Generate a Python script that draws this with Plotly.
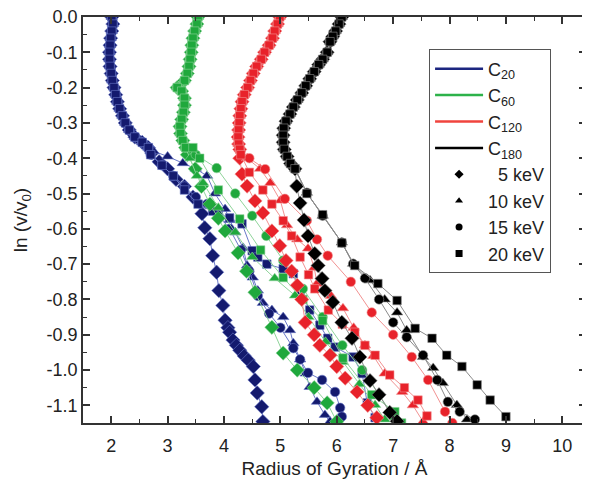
import plotly.graph_objects as go

# ---------------- data ----------------
# C20
C20_top_x = [2.01, 2.03, 2.01, 1.99, 1.98, 1.97, 1.97, 1.98, 2.00, 2.02, 2.05, 2.08, 2.11, 2.15, 2.20, 2.25, 2.32, 2.42, 2.55, 2.66]
C20_top_y = [0.0, -0.02, -0.04, -0.06, -0.08, -0.10, -0.12, -0.14, -0.16, -0.18, -0.20, -0.22, -0.24, -0.26, -0.28, -0.30, -0.32, -0.34, -0.355, -0.37]
C20_5_x = [2.72, 2.85, 3.0, 3.15, 3.3, 3.45, 3.61, 3.66, 3.75, 3.80, 3.87, 3.91, 3.98, 4.02, 4.07, 4.10, 4.16, 4.22, 4.28, 4.36, 4.43, 4.52, 4.55, 4.59, 4.67, 4.69]
C20_5_y = [-0.385, -0.41, -0.43, -0.46, -0.48, -0.51, -0.557, -0.597, -0.628, -0.676, -0.723, -0.775, -0.817, -0.859, -0.88, -0.893, -0.915, -0.93, -0.944, -0.96, -0.972, -0.99, -1.028, -1.065, -1.104, -1.146]
C20_10_x = [2.75, 3.0, 3.27, 3.5, 3.70, 3.84, 4.02, 4.10, 4.20, 4.34, 4.41, 4.51, 4.60, 4.69, 4.85, 5.05, 5.17, 5.23, 5.35, 5.45, 5.52, 5.65, 5.79, 5.88]
C20_10_y = [-0.38, -0.395, -0.414, -0.43, -0.45, -0.50, -0.544, -0.575, -0.61, -0.654, -0.704, -0.738, -0.775, -0.81, -0.83, -0.85, -0.887, -0.924, -0.97, -1.01, -1.048, -1.09, -1.127, -1.146]
C20_15_x = [2.70, 2.90, 3.10, 3.30, 3.50, 3.70, 3.90, 4.10, 4.30, 4.45, 4.60, 4.80, 5.00, 5.23, 5.35, 5.49, 5.74, 5.97, 6.06, 6.09]
C20_15_y = [-0.39, -0.42, -0.45, -0.48, -0.51, -0.53, -0.56, -0.60, -0.66, -0.72, -0.79, -0.84, -0.88, -0.938, -0.97, -1.008, -1.028, -1.062, -1.107, -1.132]
C20_20_x = [2.70, 2.90, 3.10, 3.30, 3.54, 3.80, 4.10, 4.32, 4.50, 4.60, 4.76, 5.05, 5.23, 5.35, 5.52, 5.70, 5.84, 5.97, 6.29, 6.45, 6.54, 6.68]
C20_20_y = [-0.39, -0.42, -0.45, -0.49, -0.53, -0.55, -0.569, -0.586, -0.662, -0.68, -0.70, -0.713, -0.727, -0.775, -0.83, -0.873, -0.91, -0.935, -0.963, -1.01, -1.093, -1.135]

# C60
C60_top_x = [3.54, 3.52, 3.48, 3.45, 3.43, 3.42, 3.40, 3.38, 3.35, 3.30, 3.17, 3.25, 3.30, 3.30, 3.28, 3.25, 3.22, 3.23, 3.27, 3.32]
C60_top_y = [0.0, -0.02, -0.04, -0.06, -0.08, -0.10, -0.12, -0.14, -0.16, -0.18, -0.20, -0.21, -0.23, -0.25, -0.27, -0.29, -0.31, -0.33, -0.35, -0.37]
C60_5_x = [3.35, 3.49, 3.60, 3.75, 3.90, 4.02, 4.25, 4.40, 4.55, 4.85, 5.05, 5.30, 5.60, 5.83, 6.00]
C60_5_y = [-0.39, -0.43, -0.48, -0.53, -0.57, -0.606, -0.668, -0.72, -0.78, -0.879, -0.952, -1.0, -1.05, -1.093, -1.146]
C60_10_x = [3.40, 3.52, 3.63, 3.90, 4.20, 4.50, 4.90, 5.26, 5.50, 5.80, 6.11, 6.40, 6.68, 6.85]
C60_10_y = [-0.40, -0.45, -0.47, -0.54, -0.61, -0.68, -0.74, -0.789, -0.85, -0.92, -0.977, -1.04, -1.099, -1.14]
C60_15_x = [3.50, 3.87, 4.20, 4.50, 4.75, 5.05, 5.40, 5.75, 6.10, 6.45, 6.75, 7.00]
C60_15_y = [-0.39, -0.428, -0.50, -0.563, -0.62, -0.69, -0.77, -0.85, -0.93, -1.0, -1.07, -1.13]
C60_20_x = [3.45, 3.57, 3.90, 4.28, 4.65, 5.05, 5.40, 5.75, 6.11, 6.62, 7.03, 7.15]
C60_20_y = [-0.37, -0.40, -0.49, -0.572, -0.66, -0.738, -0.80, -0.86, -0.966, -1.07, -1.118, -1.15]

# C120
C120_top_x = [4.99, 4.95, 4.90, 4.86, 4.80, 4.72, 4.66, 4.58, 4.52, 4.47, 4.42, 4.36, 4.32, 4.30, 4.28, 4.27, 4.26, 4.25, 4.26, 4.28]
C120_top_y = [0.0, -0.02, -0.04, -0.06, -0.08, -0.10, -0.12, -0.14, -0.16, -0.18, -0.20, -0.22, -0.24, -0.26, -0.28, -0.30, -0.32, -0.34, -0.36, -0.375]
C120_5_x = [4.28, 4.32, 4.41, 4.55, 4.69, 4.85, 4.99, 5.10, 5.20, 5.30, 5.38, 5.44, 5.60, 5.70, 5.88, 6.00, 6.15, 6.36, 6.55, 6.71]
C120_5_y = [-0.40, -0.445, -0.479, -0.521, -0.555, -0.606, -0.648, -0.69, -0.72, -0.76, -0.80, -0.865, -0.90, -0.93, -0.958, -0.99, -1.023, -1.062, -1.10, -1.135]
C120_10_x = [4.41, 4.64, 4.82, 5.00, 5.12, 5.30, 5.49, 5.60, 5.65, 5.90, 6.11, 6.30, 6.50, 6.65, 6.85, 7.16, 7.35, 7.53]
C120_10_y = [-0.40, -0.43, -0.47, -0.52, -0.59, -0.63, -0.656, -0.71, -0.755, -0.79, -0.825, -0.88, -0.93, -0.96, -1.01, -1.062, -1.10, -1.146]
C120_15_x = [4.45, 4.73, 5.08, 5.47, 5.65, 5.84, 6.25, 6.62, 7.00, 7.33, 7.62, 7.92, 8.05]
C120_15_y = [-0.40, -0.431, -0.515, -0.577, -0.63, -0.676, -0.75, -0.837, -0.90, -0.963, -1.028, -1.118, -1.15]
C120_20_x = [4.30, 4.45, 4.69, 4.85, 5.05, 5.20, 5.35, 5.50, 5.61, 5.85, 6.10, 6.32, 6.50, 6.68, 6.94, 7.20, 7.44, 7.60]
C120_20_y = [-0.39, -0.44, -0.49, -0.53, -0.577, -0.62, -0.68, -0.73, -0.77, -0.83, -0.87, -0.893, -0.93, -0.958, -1.014, -1.05, -1.085, -1.13]

# C180
C180_top_x = [6.09, 6.04, 5.98, 5.93, 5.88, 5.83, 5.75, 5.68, 5.60, 5.52, 5.45, 5.38, 5.30, 5.23, 5.17, 5.10, 5.06, 5.05, 5.05, 5.07, 5.12, 5.18, 5.26]
C180_top_y = [0.0, -0.02, -0.04, -0.055, -0.07, -0.10, -0.12, -0.135, -0.155, -0.175, -0.195, -0.215, -0.235, -0.255, -0.275, -0.295, -0.315, -0.335, -0.355, -0.375, -0.395, -0.415, -0.43]
C180_5_x = [5.29, 5.35, 5.42, 5.49, 5.61, 5.67, 5.74, 5.79, 5.93, 6.09, 6.27, 6.41, 6.59, 6.75, 6.94, 7.07]
C180_5_y = [-0.479, -0.527, -0.575, -0.62, -0.67, -0.704, -0.741, -0.775, -0.808, -0.865, -0.91, -0.963, -1.03, -1.07, -1.12, -1.145]
C180_10_x = [5.47, 5.75, 6.09, 6.29, 6.59, 6.85, 7.07, 7.24, 7.53, 7.71, 7.88, 8.13, 8.31]
C180_10_y = [-0.498, -0.563, -0.639, -0.699, -0.746, -0.80, -0.837, -0.887, -0.963, -0.994, -1.037, -1.099, -1.14]
C180_15_x = [5.47, 5.75, 6.09, 6.29, 6.50, 6.75, 7.00, 7.24, 7.53, 7.78, 7.97, 8.18, 8.45]
C180_15_y = [-0.498, -0.563, -0.639, -0.699, -0.74, -0.80, -0.865, -0.907, -0.958, -1.028, -1.09, -1.118, -1.14]
C180_20_x = [5.47, 5.75, 6.09, 6.32, 6.73, 7.07, 7.39, 7.69, 7.95, 8.22, 8.49, 8.72, 9.00]
C180_20_y = [-0.50, -0.56, -0.64, -0.704, -0.755, -0.803, -0.882, -0.91, -0.958, -0.99, -1.042, -1.085, -1.132]

cluster_names = ["C<sub>20</sub>", "C<sub>60</sub>", "C<sub>120</sub>", "C<sub>180</sub>"]
energy_labels = ["&nbsp;&nbsp;5 keV", "10 keV", "15 keV", "20 keV"]
x_ticks = [2, 3, 4, 5, 6, 7, 8, 9, 10]
y_ticks = [0.0, -0.1, -0.2, -0.3, -0.4, -0.5, -0.6, -0.7, -0.8, -0.9, -1.0, -1.1]

# ---------------- styling ----------------
marker_colors = ["#141a6e", "#1fa83c", "#e8222a", "#000000"]
line_colors = ["#6a78c8", "#8fd49a", "#f29292", "#8a8a8a"]
legend_line_colors = ["#1c2680", "#2db24a", "#f0443e", "#000000"]
symbols = ["diamond", "triangle-up", "circle", "square"]
sizes = [11, 10, 9.5, 8.5]

clusters = [
    (C20_top_x, C20_top_y, [(C20_5_x, C20_5_y), (C20_10_x, C20_10_y), (C20_15_x, C20_15_y), (C20_20_x, C20_20_y)]),
    (C60_top_x, C60_top_y, [(C60_5_x, C60_5_y), (C60_10_x, C60_10_y), (C60_15_x, C60_15_y), (C60_20_x, C60_20_y)]),
    (C120_top_x, C120_top_y, [(C120_5_x, C120_5_y), (C120_10_x, C120_10_y), (C120_15_x, C120_15_y), (C120_20_x, C120_20_y)]),
    (C180_top_x, C180_top_y, [(C180_5_x, C180_5_y), (C180_10_x, C180_10_y), (C180_15_x, C180_15_y), (C180_20_x, C180_20_y)]),
]

fig = go.Figure()
for ci, (tx, ty, branches) in enumerate(clusters):
    for ei, (bx, by) in enumerate(branches):
        fig.add_trace(go.Scatter(
            x=tx + bx, y=ty + by, mode="lines+markers",
            line=dict(color=line_colors[ci], width=1),
            marker=dict(symbol=symbols[ei], size=sizes[ei], color=marker_colors[ci],
                        line=dict(width=0.6, color=line_colors[ci])),
            showlegend=False, hoverinfo="skip"))

for ci, name in enumerate(cluster_names):
    fig.add_trace(go.Scatter(x=[None], y=[None], mode="lines", name=name,
                             line=dict(color=legend_line_colors[ci], width=2.5)))
for ei, name in enumerate(energy_labels):
    fig.add_trace(go.Scatter(x=[None], y=[None], mode="markers", name=name,
                             marker=dict(symbol=symbols[ei], size=7, color="black")))

axis_common = dict(showline=True, linecolor="#333333", linewidth=1.5, mirror="ticks",
                   ticks="inside", ticklen=7, tickwidth=1.5, tickcolor="#333333",
                   showgrid=False, zeroline=False, automargin=False,
                   ticklabeloverflow="allow",
                   tickfont=dict(size=18, color="#222222"))

fig.update_xaxes(range=[1.5, 10.42], tickvals=x_ticks, ticktext=[str(v) for v in x_ticks],
                 ticklabelstandoff=6,
                 minor=dict(ticks="inside", ticklen=4, tickwidth=1.2, tickcolor="#333333", dtick=0.5, tick0=1.5),
                 title=dict(text="Radius of Gyration / Å", font=dict(size=19, color="#222222"), standoff=6),
                 **axis_common)
fig.update_yaxes(range=[-1.15, 0.0], tickvals=y_ticks, ticktext=[f"{v:.1f}" for v in y_ticks],
                 minor=dict(ticks="inside", ticklen=4, tickwidth=1.2, tickcolor="#333333", dtick=0.05, tick0=0),
                 title=dict(text="ln (v/v<sub>0</sub>)", font=dict(size=19, color="#222222"), standoff=14),
                 **axis_common)

fig.update_layout(
    width=590, height=481,
    margin=dict(l=75, r=12, t=9, b=66),
    paper_bgcolor="white", plot_bgcolor="white",
    font=dict(family="Arial, Liberation Sans, sans-serif", color="#222222"),
    legend=dict(x=0.688, y=0.92, xanchor="left", yanchor="top",
                bgcolor="white", bordercolor="#555555", borderwidth=1,
                font=dict(size=18, color="#222222"), tracegroupgap=0,
                itemwidth=48),
)

fig.write_html("out.html")
